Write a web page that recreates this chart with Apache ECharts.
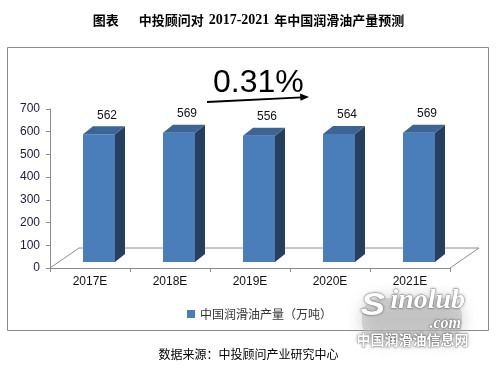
<!DOCTYPE html>
<html>
<head>
<meta charset="utf-8">
<script src="https://cdn.jsdelivr.net/npm/echarts@6/dist/echarts.min.js"></script>
<style>
html,body{margin:0;padding:0;background:#fff;}
#chart{width:497px;height:365px;}
</style>
</head>
<body>
<div id="chart"></div>
<script>
const categories = ['2017E', '2018E', '2019E', '2020E', '2021E'];
const production = [562, 569, 556, 564, 569];
const seriesName = '中国润滑油产量（万吨）';
const growthText = '0.31%';
const yMin = 0, yMax = 700, yStep = 100;

const chart = echarts.init(document.getElementById('chart'), null, {renderer: 'canvas'});

function renderBar(params, api) {
  const idx = api.value(0), v = api.value(1);
  const base = api.coord([idx, 0]);
  const top = api.coord([idx, v]);
  const band = api.size([1, 0])[0];
  const w = band * 0.4, dx = band * 0.125, dy = 8, lift = 6;
  const x0 = base[0] - band * 0.0875;
  const yb = base[1] - lift, yt = top[1] - lift;
  return {
    type: 'group',
    children: [
      {type: 'rect', shape: {x: x0, y: yt, width: w, height: yb - yt},
       style: {fill: '#4a7ebb'}},
      {type: 'polygon', shape: {points: [[x0 + w, yt], [x0 + w + dx, yt - dy], [x0 + w + dx, yb - dy], [x0 + w, yb]]},
       style: {fill: '#263f5e'}},
      {type: 'polygon', shape: {points: [[x0, yt], [x0 + w, yt], [x0 + w + dx, yt - dy], [x0 + dx, yt - dy]]},
       style: {fill: '#3b6596'}},
      {type: 'text', style: {text: String(v), x: x0 + w * 0.75, y: yt - dy - 11,
        align: 'center', verticalAlign: 'middle', fill: '#111',
        font: '12px "Liberation Sans", Arial, sans-serif'}}
    ]
  };
}

function renderFloor(params, api) {
  const band = api.size([1, 0])[0];
  const a = api.coord([0, 0]);
  const b = api.coord([categories.length - 1, 0]);
  const left = a[0] - band / 2, right = b[0] + band / 2, y = a[1];
  const ddx = 29, ddy = 20;
  return {
    type: 'polyline',
    shape: {points: [[left, y], [left + ddx, y - ddy], [right + ddx, y - ddy], [right, y]]},
    style: {stroke: '#8c8c8c', lineWidth: 1, fill: null}
  };
}

const wmStyle = (text, font) => ({text: text, font: font, fill: '#fff',
  stroke: 'rgba(120,120,120,0.55)', lineWidth: 0.8,
  textShadowColor: 'rgba(0,0,0,0.35)', textShadowBlur: 3});

const option = {
  animation: false,
  title: {
    text: '{a|图表}    {a|中投顾问对} {b|2017-2021} {a|年中国润滑油产量预测}',
    left: 'center', top: 6,
    textStyle: {
      rich: {
        a: {fontFamily: '"Noto Sans CJK SC"', fontWeight: 'bold', fontSize: 13, color: '#000'},
        b: {fontFamily: '"Liberation Serif", serif', fontWeight: 'bold', fontSize: 14, color: '#000'}
      }
    }
  },
  legend: {
    data: [{name: seriesName, icon: 'rect'}],
    left: 182, top: 303,
    itemWidth: 8, itemHeight: 8, itemGap: 5,
    textStyle: {fontFamily: '"Noto Sans CJK SC"', fontSize: 12, color: '#333'}
  },
  grid: {left: 50, right: 47, top: 109, bottom: 97},
  xAxis: {
    type: 'category', data: categories, boundaryGap: true,
    axisLine: {show: true, lineStyle: {color: '#8c8c8c'}},
    axisTick: {show: true, length: 4, alignWithLabel: false, lineStyle: {color: '#8c8c8c'}},
    axisLabel: {color: '#111', fontSize: 12, fontFamily: '"Liberation Sans", Arial', margin: 8}
  },
  yAxis: {
    type: 'value', min: yMin, max: yMax, interval: yStep,
    axisLine: {show: true, lineStyle: {color: '#8c8c8c'}},
    axisTick: {show: true, length: 4, lineStyle: {color: '#8c8c8c'}},
    axisLabel: {color: '#1a1a40', fontSize: 12, fontFamily: '"Liberation Sans", Arial', margin: 10},
    splitLine: {show: false}
  },
  series: [
    {type: 'custom', name: 'floor', renderItem: renderFloor, data: [[0, 0]], z: 1, silent: true},
    {type: 'custom', name: seriesName, renderItem: renderBar, z: 3,
     itemStyle: {color: '#4a7ebb'},
     encode: {x: 0, y: 1},
     data: production.map((v, i) => [i, v])}
  ],
  graphic: [
    {type: 'rect', shape: {x: 7.5, y: 47.5, width: 481, height: 283},
     style: {fill: null, stroke: '#8a8a8a', lineWidth: 1}, z: 0},
    {type: 'text', left: 213, top: 67,
     style: {text: growthText, font: '32px "Liberation Sans", Arial', fill: '#000'}},
    {type: 'line', shape: {x1: 207, y1: 102, x2: 302, y2: 97.3},
     style: {stroke: '#000', lineWidth: 1.8}},
    {type: 'polygon', shape: {points: [[309, 97], [300, 93.5], [300.5, 100.8]]},
     style: {fill: '#000'}},
    {type: 'text', left: 'center', top: 348,
     style: {text: '数据来源：中投顾问产业研究中心', font: '12px "Noto Sans CJK SC"', fill: '#000'}},
    {type: 'rect', shape: {x: 362, y: 298, width: 100, height: 42, r: 18}, z: 9,
     style: {fill: 'rgba(185,185,185,0.55)', shadowBlur: 16, shadowColor: 'rgba(160,160,160,0.9)'}},
    {type: 'text', left: 360, top: 290, z: 10, scaleX: 1.15,
     style: wmStyle('S', 'italic bold 32px "Liberation Sans", Arial')},
    {type: 'text', left: 390, top: 286, z: 10,
     style: wmStyle('inolub', 'italic bold 28px "Liberation Serif", serif')},
    {type: 'text', left: 429, top: 315, z: 10,
     style: wmStyle('.com', 'italic bold 16px "Liberation Serif", serif')},
    {type: 'text', left: 356, top: 332, z: 10,
     style: wmStyle('中国润滑油信息网', 'bold 14px "Noto Sans CJK SC"')}
  ]
};
chart.setOption(option);
</script>
</body>
</html>
